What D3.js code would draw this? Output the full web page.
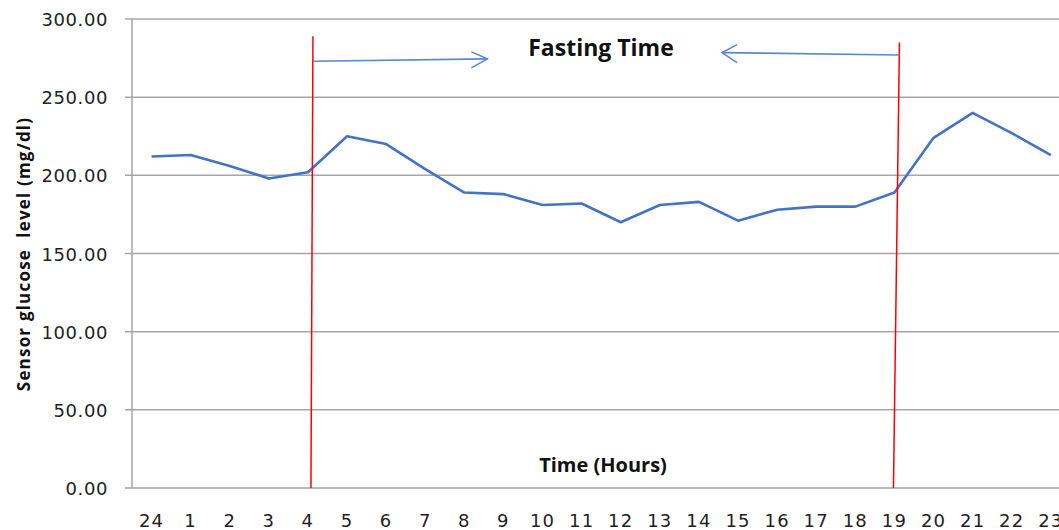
<!DOCTYPE html>
<html lang="en">

<head>
  <meta charset="UTF-8">
  <script src="https://d3js.org/d3.v7.min.js"></script>
  <style>
    body { margin: 0; background: #fff; }
    svg { display: block; }
  </style>
</head>

<body>
  <svg id="chart" width="1059" height="530"></svg>

  <script>
    // data
    const hours = ["24", "1", "2", "3", "4", "5", "6", "7", "8", "9", "10", "11",
      "12", "13", "14", "15", "16", "17", "18", "19", "20", "21", "22", "23"];
    const glucose = [212, 213, 206, 198, 202, 225, 220, 204, 189, 188, 181, 182,
      170, 181, 183, 171, 178, 180, 180, 189, 224, 240, 227, 213];
    const yTicks = [0, 50, 100, 150, 200, 250, 300];
    const fastStart = "4";
    const fastEnd = "19";

    const svg = d3.select("#chart");
    const plotLeft = 132, plotBottom = 488, plotTop = 19;
    const step = 39.1;

    const x = d3.scaleBand().domain(hours).range([plotLeft, plotLeft + step * hours.length]);
    const y = d3.scaleLinear().domain([0, 300]).range([plotBottom, plotTop]);
    const cx = d => x(d) + x.bandwidth() / 2;

    // gridlines
    svg.append("g").selectAll("line").data(yTicks)
      .join("line")
      .attr("x1", plotLeft - 7)
      .attr("x2", 1059)
      .attr("y1", d => y(d))
      .attr("y2", d => y(d))
      .attr("stroke", "#a6a6a6")
      .attr("stroke-width", 1.5);

    // y axis line
    svg.append("line")
      .attr("x1", plotLeft).attr("x2", plotLeft)
      .attr("y1", y(300)).attr("y2", y(0))
      .attr("stroke", "#a6a6a6")
      .attr("stroke-width", 1.5);

    // y tick labels
    svg.append("g").selectAll("text").data(yTicks)
      .join("text")
      .attr("x", 108)
      .attr("y", d => y(d) + 7)
      .attr("text-anchor", "end")
      .attr("font-family", "DejaVu Sans")
      .attr("font-size", 18)
      .attr("letter-spacing", 0.6)
      .attr("fill", "#222")
      .text(d => d.toFixed(2));

    // x tick labels
    svg.append("g").selectAll("text").data(hours)
      .join("text")
      .attr("x", d => cx(d))
      .attr("y", 527)
      .attr("text-anchor", "middle")
      .attr("font-family", "DejaVu Sans")
      .attr("font-size", 18)
      .attr("letter-spacing", 1.2)
      .attr("fill", "#222")
      .text(d => d);

    // glucose line
    const line = d3.line()
      .x((d, i) => cx(hours[i]))
      .y(d => y(d));

    svg.append("path")
      .datum(glucose)
      .attr("d", line)
      .attr("fill", "none")
      .attr("stroke", "#4472c4")
      .attr("stroke-width", 2.6)
      .attr("stroke-linejoin", "round");

    // fasting window markers
    const xs = cx(fastStart), xe = cx(fastEnd);
    svg.append("line")
      .attr("x1", xs + 5).attr("y1", y(289))
      .attr("x2", xs + 3).attr("y2", y(0))
      .attr("stroke", "#ff0000").attr("stroke-width", 1.5);
    svg.append("line")
      .attr("x1", xe + 5).attr("y1", y(285))
      .attr("x2", xe - 1).attr("y2", y(0))
      .attr("stroke", "#ff0000").attr("stroke-width", 1.5);

    const arrowColor = "#5b86d1";
    // right-pointing arrow
    const a1y0 = y(273), a1y1 = y(274.5), a1tip = cx("8") + 23;
    svg.append("line")
      .attr("x1", xs + 5).attr("y1", a1y0)
      .attr("x2", a1tip).attr("y2", a1y1)
      .attr("stroke", arrowColor).attr("stroke-width", 1.6);
    svg.append("path")
      .attr("d", `M${a1tip - 16},${a1y1 - 7}L${a1tip},${a1y1}L${a1tip - 16},${a1y1 + 9}`)
      .attr("fill", "none").attr("stroke", arrowColor).attr("stroke-width", 1.6);

    // left-pointing arrow
    const a2y0 = y(277), a2y1 = y(278.5), a2tip = cx("15") - 16;
    svg.append("line")
      .attr("x1", xe + 5).attr("y1", a2y0)
      .attr("x2", a2tip).attr("y2", a2y1)
      .attr("stroke", arrowColor).attr("stroke-width", 1.6);
    svg.append("path")
      .attr("d", `M${a2tip + 15},${a2y1 - 8}L${a2tip},${a2y1}L${a2tip + 15},${a2y1 + 10}`)
      .attr("fill", "none").attr("stroke", arrowColor).attr("stroke-width", 1.6);

    svg.append("text")
      .attr("x", 601)
      .attr("y", 56)
      .attr("text-anchor", "middle")
      .attr("font-family", "Open Sans")
      .attr("font-weight", "bold")
      .attr("font-size", 23)
      .attr("fill", "#111")
      .text("Fasting Time");

    // axis titles
    svg.append("text")
      .attr("x", 603)
      .attr("y", 472)
      .attr("text-anchor", "middle")
      .attr("font-family", "Open Sans")
      .attr("font-weight", "bold")
      .attr("font-size", 20)
      .attr("fill", "#111")
      .text("Time (Hours)");

    svg.append("text")
      .attr("transform", "translate(30, 254) rotate(-90)")
      .attr("text-anchor", "middle")
      .attr("font-family", "Open Sans")
      .attr("font-weight", "bold")
      .attr("font-size", 17)
      .attr("letter-spacing", 1.2)
      .attr("fill", "#111")
      .style("white-space", "pre")
      .text("Sensor glucose  level (mg/dl)");
  </script>
</body>

</html>
